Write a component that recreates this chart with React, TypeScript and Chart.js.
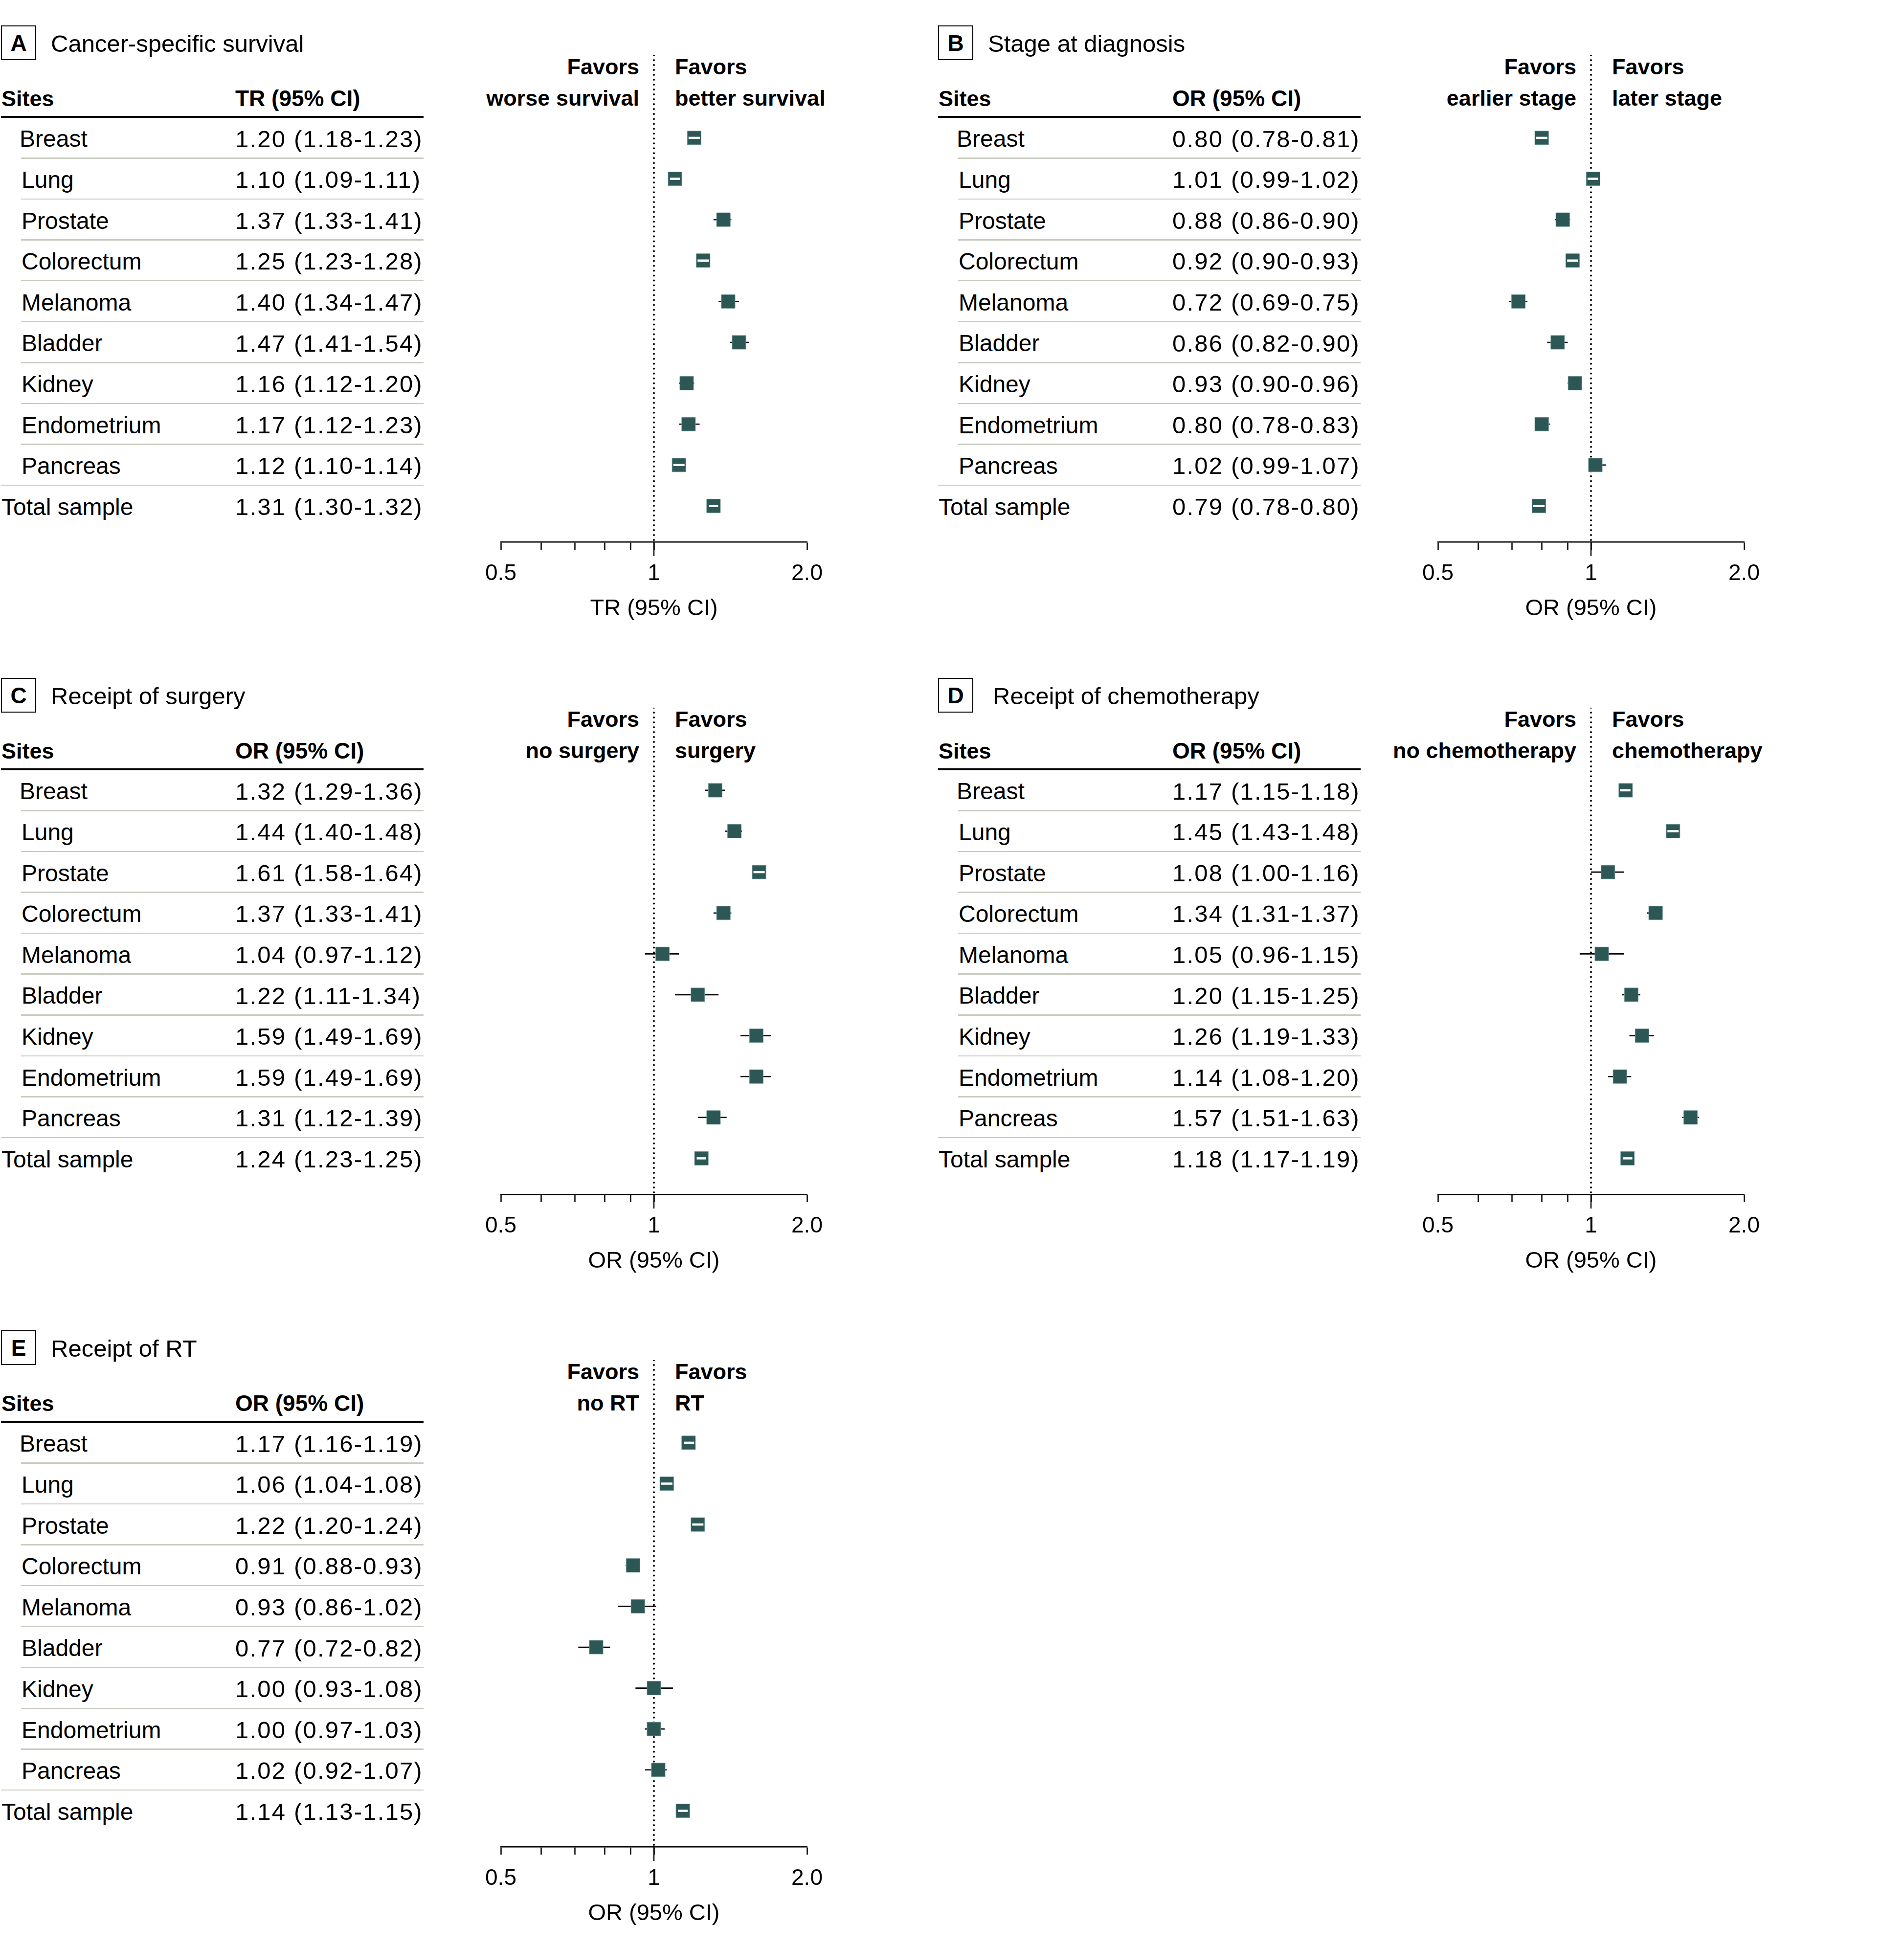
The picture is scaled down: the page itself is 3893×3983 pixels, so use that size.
import React, { useEffect, useRef } from 'react';
import { Chart, registerables } from 'chart.js';

Chart.register(...registerables);

// ---------------- DATA ----------------
const SITES = ['Breast', 'Lung', 'Prostate', 'Colorectum', 'Melanoma', 'Bladder', 'Kidney', 'Endometrium', 'Pancreas', 'Total sample'];

const TICK_VALUES = [0.5, 0.6, 0.7, 0.8, 0.9, 1, 2];
const TICK_LABELS = ['0.5', '', '', '', '', '1', '2.0'];

// A: Cancer-specific survival (TR)
const A_EST = [1.20, 1.10, 1.37, 1.25, 1.40, 1.47, 1.16, 1.17, 1.12, 1.31];
const A_LO = [1.18, 1.09, 1.31, 1.23, 1.34, 1.41, 1.12, 1.12, 1.10, 1.30];
const A_HI = [1.23, 1.11, 1.42, 1.28, 1.47, 1.54, 1.20, 1.23, 1.14, 1.32];
const A_TEXT = ['1.20 (1.18-1.23)', '1.10 (1.09-1.11)', '1.37 (1.33-1.41)', '1.25 (1.23-1.28)', '1.40 (1.34-1.47)', '1.47 (1.41-1.54)', '1.16 (1.12-1.20)', '1.17 (1.12-1.23)', '1.12 (1.10-1.14)', '1.31 (1.30-1.32)'];
const A_INNER = [true, true, false, true, false, false, false, false, true, true];

// B: Stage at diagnosis (OR)
const B_EST = [0.80, 1.01, 0.88, 0.92, 0.72, 0.86, 0.93, 0.80, 1.02, 0.79];
const B_LO = [0.78, 0.99, 0.85, 0.90, 0.69, 0.82, 0.90, 0.78, 0.99, 0.78];
const B_HI = [0.81, 1.02, 0.91, 0.93, 0.75, 0.90, 0.96, 0.83, 1.07, 0.80];
const B_TEXT = ['0.80 (0.78-0.81)', '1.01 (0.99-1.02)', '0.88 (0.86-0.90)', '0.92 (0.90-0.93)', '0.72 (0.69-0.75)', '0.86 (0.82-0.90)', '0.93 (0.90-0.96)', '0.80 (0.78-0.83)', '1.02 (0.99-1.07)', '0.79 (0.78-0.80)'];
const B_INNER = [true, true, false, true, false, false, false, false, false, true];

// C: Receipt of surgery (OR)
const C_EST = [1.32, 1.44, 1.61, 1.37, 1.04, 1.22, 1.59, 1.59, 1.31, 1.24];
const C_LO = [1.26, 1.38, 1.58, 1.31, 0.96, 1.10, 1.48, 1.48, 1.22, 1.23];
const C_HI = [1.38, 1.49, 1.64, 1.42, 1.12, 1.34, 1.70, 1.70, 1.39, 1.25];
const C_TEXT = ['1.32 (1.29-1.36)', '1.44 (1.40-1.48)', '1.61 (1.58-1.64)', '1.37 (1.33-1.41)', '1.04 (0.97-1.12)', '1.22 (1.11-1.34)', '1.59 (1.49-1.69)', '1.59 (1.49-1.69)', '1.31 (1.12-1.39)', '1.24 (1.23-1.25)'];
const C_INNER = [false, false, true, false, false, false, false, false, false, true];

// D: Receipt of chemotherapy (OR)
const D_EST = [1.17, 1.45, 1.08, 1.34, 1.05, 1.20, 1.26, 1.14, 1.57, 1.18];
const D_LO = [1.15, 1.43, 1.00, 1.29, 0.95, 1.15, 1.19, 1.08, 1.51, 1.17];
const D_HI = [1.18, 1.48, 1.16, 1.38, 1.16, 1.25, 1.33, 1.20, 1.63, 1.19];
const D_TEXT = ['1.17 (1.15-1.18)', '1.45 (1.43-1.48)', '1.08 (1.00-1.16)', '1.34 (1.31-1.37)', '1.05 (0.96-1.15)', '1.20 (1.15-1.25)', '1.26 (1.19-1.33)', '1.14 (1.08-1.20)', '1.57 (1.51-1.63)', '1.18 (1.17-1.19)'];
const D_INNER = [true, true, false, false, false, false, false, false, false, true];

// E: Receipt of RT (OR)
const E_EST = [1.17, 1.06, 1.22, 0.91, 0.93, 0.77, 1.00, 1.00, 1.02, 1.14];
const E_LO = [1.16, 1.04, 1.20, 0.88, 0.85, 0.71, 0.92, 0.96, 0.96, 1.13];
const E_HI = [1.19, 1.08, 1.24, 0.93, 1.01, 0.82, 1.09, 1.05, 1.06, 1.15];
const E_TEXT = ['1.17 (1.16-1.19)', '1.06 (1.04-1.08)', '1.22 (1.20-1.24)', '0.91 (0.88-0.93)', '0.93 (0.86-1.02)', '0.77 (0.72-0.82)', '1.00 (0.93-1.08)', '1.00 (0.97-1.03)', '1.02 (0.92-1.07)', '1.14 (1.13-1.15)'];
const E_INNER = [true, true, true, false, false, false, false, false, false, true];

// ---------------- STYLE / LAYOUT ----------------
const FONT = "'Liberation Sans', Arial, sans-serif";
const BOX_FILL = '#2c5755';
const BOX_EDGE = '#6f9a97';
const SEP_COLOR = '#c7ccbf';
const BOX_SIDE = 28;
const Y_MIN = -2.02;
const Y_MAX = 9.88;

const CANVAS_W = 786;
const CANVAS_H = 1176;

type PanelDef = {
  letter: string; title: string; titleDx: number; measure: string;
  favL: string[]; favR: string[];
  est: number[]; lo: number[]; hi: number[]; text: string[]; inner: boolean[];
  dx: number; dy: number;
};

const PANELS: PanelDef[] = [
  { letter: 'A', title: 'Cancer-specific survival', titleDx: 0, measure: 'TR (95% CI)', favL: ['Favors', 'worse survival'], favR: ['Favors', 'better survival'], est: A_EST, lo: A_LO, hi: A_HI, text: A_TEXT, inner: A_INNER, dx: 0, dy: 0 },
  { letter: 'B', title: 'Stage at diagnosis', titleDx: 0, measure: 'OR (95% CI)', favL: ['Favors', 'earlier stage'], favR: ['Favors', 'later stage'], est: B_EST, lo: B_LO, hi: B_HI, text: B_TEXT, inner: B_INNER, dx: 1916, dy: 0 },
  { letter: 'C', title: 'Receipt of surgery', titleDx: 0, measure: 'OR (95% CI)', favL: ['Favors', 'no surgery'], favR: ['Favors', 'surgery'], est: C_EST, lo: C_LO, hi: C_HI, text: C_TEXT, inner: C_INNER, dx: 0, dy: 1334 },
  { letter: 'D', title: 'Receipt of chemotherapy', titleDx: 10, measure: 'OR (95% CI)', favL: ['Favors', 'no chemotherapy'], favR: ['Favors', 'chemotherapy'], est: D_EST, lo: D_LO, hi: D_HI, text: D_TEXT, inner: D_INNER, dx: 1916, dy: 1334 },
  { letter: 'E', title: 'Receipt of RT', titleDx: 0, measure: 'OR (95% CI)', favL: ['Favors', 'no RT'], favR: ['Favors', 'RT'], est: E_EST, lo: E_LO, hi: E_HI, text: E_TEXT, inner: E_INNER, dx: 0, dy: 2668 },
];

// ---------------- COMPONENTS ----------------
function Txt(props: { x: number; y: number; size: number; bold?: boolean; right?: boolean; ls?: number; children: React.ReactNode }) {
  const { x, y, size, bold, right, ls, children } = props;
  return (
    <div
      style={{
        position: 'absolute', left: x, top: y - 0.8465 * size, fontFamily: FONT, fontSize: size,
        lineHeight: `${size}px`, fontWeight: bold ? 700 : 400, whiteSpace: 'nowrap', color: '#000',
        letterSpacing: ls ? `${ls}px` : undefined, transform: right ? 'translateX(-100%)' : undefined,
      }}
    >
      {children}
    </div>
  );
}

function Forest({ p }: { p: PanelDef }) {
  const ref = useRef<HTMLCanvasElement>(null);
  useEffect(() => {
    if (!ref.current) return;
    const rows = p.est.map((_, i) => i);
    const ciSets: any[] = rows.map((i) => ({
      data: [{ x: p.lo[i], y: i }, { x: p.hi[i], y: i }],
      showLine: true, borderColor: '#000', borderWidth: 2.6, pointRadius: 0, order: 2,
    }));
    const innerPlugin = {
      id: 'innerCI',
      afterDatasetsDraw(chart: any) {
        const { ctx } = chart;
        const xs = chart.scales.x;
        const ys = chart.scales.y;
        const half = BOX_SIDE / 2;
        ctx.save();
        ctx.strokeStyle = '#ffffff';
        ctx.lineWidth = 4.5;
        ctx.lineCap = 'butt';
        rows.forEach((i) => {
          if (!p.inner[i]) return;
          const cx = xs.getPixelForValue(p.est[i]);
          const py = ys.getPixelForValue(i);
          const a = Math.max(xs.getPixelForValue(p.lo[i]) - 6, cx - half + 2.5);
          const b = Math.min(xs.getPixelForValue(p.hi[i]) + 6, cx + half - 2.5);
          ctx.beginPath();
          ctx.moveTo(a, py);
          ctx.lineTo(b, py);
          ctx.stroke();
        });
        ctx.restore();
      },
      afterDraw(chart: any) {
        const { ctx } = chart;
        const xs = chart.scales.x;
        const px = xs.getPixelForValue(1);
        ctx.save();
        ctx.strokeStyle = '#000';
        ctx.lineWidth = 2.5;
        ctx.beginPath();
        ctx.moveTo(px, xs.top);
        ctx.lineTo(px, xs.top + 29);
        ctx.stroke();
        ctx.restore();
      },
    };
    const chart = new Chart(ref.current, {
      type: 'scatter',
      data: {
        datasets: [
          {
            data: [{ x: 1, y: Y_MIN }, { x: 1, y: Y_MAX }],
            showLine: true, borderColor: '#000', borderWidth: 4, borderDash: [0.01, 10], borderCapStyle: 'round',
            pointRadius: 0, order: 3,
          } as any,
          ...ciSets,
          {
            data: rows.map((i) => ({ x: p.est[i], y: i })),
            pointStyle: 'rect', pointRadius: BOX_SIDE / Math.SQRT2, backgroundColor: BOX_FILL,
            borderColor: BOX_EDGE, borderWidth: 1, order: 0,
          } as any,
        ],
      },
      options: {
        responsive: false,
        animation: false,
        devicePixelRatio: 1,
        events: [],
        layout: { autoPadding: false, padding: { top: 10, bottom: 10, left: 80, right: 80 } },
        plugins: { legend: { display: false }, tooltip: { enabled: false } },
        scales: {
          x: {
            type: 'logarithmic', min: 0.5, max: 2, position: 'bottom',
            afterBuildTicks: (s: any) => { s.ticks = TICK_VALUES.map((v) => ({ value: v })); },
            ticks: {
              autoSkip: false, maxRotation: 0, minRotation: 0, padding: 26, color: '#000',
              font: { family: FONT, size: 46, lineHeight: 1 },
              callback: (_v: any, i: number) => TICK_LABELS[i],
            },
            grid: { display: true, drawOnChartArea: false, drawTicks: true, tickLength: 16, tickWidth: 2.5, tickColor: '#000', color: '#000' },
            border: { display: true, color: '#000', width: 2.5 },
            title: { display: true, text: p.measure, color: '#000', font: { family: FONT, size: 47, lineHeight: 1 }, padding: 0 },
          },
          y: { type: 'linear', min: Y_MIN, max: Y_MAX, reverse: true, display: false },
        },
      } as any,
      plugins: [innerPlugin],
    });
    return () => chart.destroy();
  }, [p]);
  return (
    <canvas
      ref={ref}
      width={CANVAS_W}
      height={CANVAS_H}
      style={{ position: 'absolute', left: 944 + p.dx, top: 103 + p.dy, width: CANVAS_W, height: CANVAS_H }}
    />
  );
}

function Panel({ p }: { p: PanelDef }) {
  const { dx, dy } = p;
  const pitch = 83.6;
  const labelX = (i: number) => (i === SITES.length - 1 ? 3 : i === 0 ? 40 : 44);
  return (
    <>
      <div
        style={{
          position: 'absolute', left: 2 + dx, top: 52 + dy, width: 72, height: 71, border: '2.5px solid #000',
          boxSizing: 'border-box', display: 'flex', alignItems: 'center', justifyContent: 'center',
          fontFamily: FONT, fontWeight: 700, fontSize: 46, lineHeight: '46px', color: '#000',
        }}
      >
        {p.letter}
      </div>
      <Txt x={104 + p.titleDx + dx} y={106 + dy} size={49}>{p.title}</Txt>
      <Txt x={3 + dx} y={217 + dy} size={45} bold>Sites</Txt>
      <Txt x={481 + dx} y={217 + dy} size={46} bold>{p.measure}</Txt>
      <div style={{ position: 'absolute', left: 2 + dx, top: 237 + dy, width: 864, height: 4, background: '#000' }} />
      <Txt x={1307 + dx} y={152 + dy} size={45} bold right>{p.favL[0]}</Txt>
      <Txt x={1307 + dx} y={216 + dy} size={45} bold right>{p.favL[1]}</Txt>
      <Txt x={1380 + dx} y={152 + dy} size={45} bold>{p.favR[0]}</Txt>
      <Txt x={1380 + dx} y={216 + dy} size={45} bold>{p.favR[1]}</Txt>
      {SITES.map((s, i) => (
        <React.Fragment key={s}>
          <Txt x={labelX(i) + dx} y={301 + pitch * i + dy} size={48}>{s}</Txt>
          <Txt x={481 + dx} y={301 + pitch * i + dy} size={49} ls={2.2}>{p.text[i]}</Txt>
          {i < SITES.length - 1 && (
            <div
              style={{
                position: 'absolute', left: (i === SITES.length - 2 ? 2 : 43) + dx, top: 322 + pitch * i + dy,
                width: i === SITES.length - 2 ? 864 : 823, height: 2.5, background: SEP_COLOR,
              }}
            />
          )}
        </React.Fragment>
      ))}
      <Forest p={p} />
    </>
  );
}

export default function App() {
  return (
    <div style={{ position: 'absolute', left: 0, top: 0, width: 3893, height: 3983, background: '#fff', overflow: 'hidden' }}>
      {PANELS.map((p) => (
        <Panel key={p.letter} p={p} />
      ))}
    </div>
  );
}
